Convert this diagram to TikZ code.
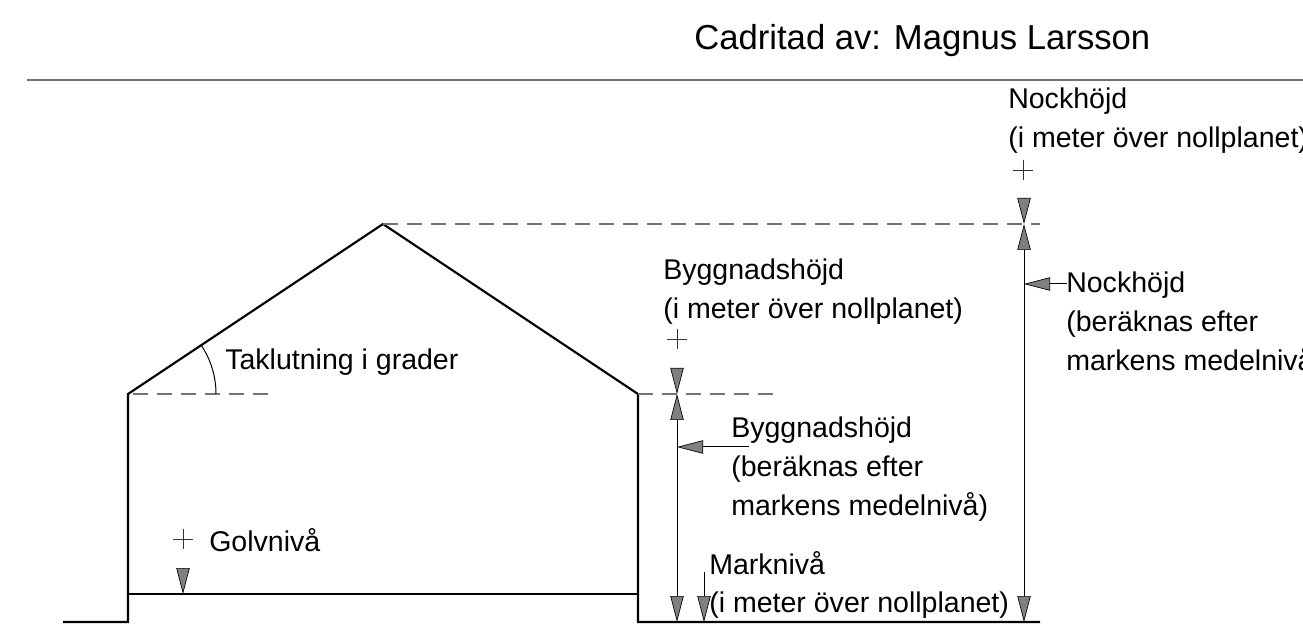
\documentclass[tikz,border=0pt]{standalone}
\usepackage{fontspec}
\setmainfont{Liberation Sans}
\usetikzlibrary{arrows.meta, positioning}
\definecolor{tipgray}{gray}{0.5}
\definecolor{levelgray}{gray}{0.45}
\tikzset{
    wall/.style={line width=1.6pt, black, line join=miter},
    floorline/.style={line width=1.6pt, black},
    level/.style={line width=0.8pt, levelgray, dash pattern=on 11.3pt off 6.7pt},
    dimline/.style={line width=0.75pt, black},
    tip/.style={dimline, -{Triangle[length=19.5pt, width=10pt, fill=tipgray, line width=0.5pt]}},
    label/.style={inner sep=0pt, anchor=north west, align=left, font=\fontsize{21.4pt}{28.9pt}\selectfont},
    plusmark/.style={line width=0.45pt, black!80}
}
\begin{document}
\begin{tikzpicture}[x=0.75pt, y=-0.75pt]
    \useasboundingbox (0,0) rectangle (1303,630);
    \clip (0,0) rectangle (1303,630);
    % house outline
    \coordinate (g1) at (63,622);
    \coordinate (g2) at (128,622);
    \coordinate (e1) at (128,394);
    \coordinate (r1) at (383,224);
    \coordinate (e2) at (638,394);
    \coordinate (g3) at (638,622);
    \coordinate (g4) at (1040,622);
    \coordinate (f1) at (128,594);
    \coordinate (f2) at (638,594);
    \draw[wall] (g1) -- (g2) -- (e1) -- (r1) -- (e2) -- (g3) -- (g4);
    \draw[floorline] (f1) -- (f2);
    % level lines
    \coordinate (d1) at (272,394);
    \coordinate (d2) at (775,394);
    \coordinate (d3) at (1040,224);
    \draw[level, dash phase=14pt] (e1) -- (d1);
    \draw[level] (e2) -- (d2);
    \draw[level] (r1) -- (d3);
    % roof angle
    \draw[dimline] (216,394) arc (0:-33.7:88);
    % plus marks
    \foreach \x/\y in {183/539, 677/339, 1023/170}{
    \draw[plusmark] (\x-10,\y) -- (\x+10,\y);
    \draw[plusmark] (\x,\y-10) -- (\x,\y+10);}
    % byggnadshojd
    \coordinate (b1) at (677,370);
    \coordinate (b2) at (677,394);
    \coordinate (b3) at (677,622);
    \coordinate (b4) at (677,447);
    \draw[tip] (b1) -- (b2);
    \draw[tip] (b4) -- (b2);
    \draw[tip] (b4) -- (b3);
    % nockhojd
    \coordinate (n1) at (1024,199);
    \coordinate (n2) at (1024,224);
    \coordinate (n3) at (1024,622);
    \coordinate (n4) at (1024,284);
    \draw[tip] (n1) -- (n2);
    \draw[tip] (n4) -- (n2);
    \draw[tip] (n4) -- (n3);
    % markniva, golvniva
    \draw[tip] (704,572) -- (704,622);
    \draw[tip] (183,568) -- (183,594);
    % pointers
    \coordinate (p1) at (749,447);
    \coordinate (p2) at (1067,284);
    \draw[tip] (p1) -- (b4);
    \draw[tip] (p2) -- (n4);
    % top rule
    \coordinate (t1) at (27,80);
    \coordinate (t2) at (1303,80);
    \draw[line width=1.6pt, black!55] (t1) -- (t2);
    % texts
    \node[label, font=\fontsize{26pt}{32pt}\selectfont] (title) at (694,24) {Cadritad av: Magnus Larsson};
    \node[label] (nock1) at (1008,88) {Nockhöjd\\(i meter över nollplanet)};
    \node[label] (nock2) at (1066,272) {Nockhöjd\\(beräknas efter\\markens medelnivå)};
    \node[label] (bygg1) at (663,259) {Byggnadshöjd\\(i meter över nollplanet)};
    \node[label] (bygg2) at (731,417) {Byggnadshöjd\\(beräknas efter\\markens medelnivå)};
    \node[label] (mark) at (709,551) {Marknivå\\(i meter över nollplanet)};
    \node[label] (tak) at (225,349) {Taklutning i grader};
    \node[label] (golv) at (209,528) {Golvnivå};
\end{tikzpicture}
\end{document}
